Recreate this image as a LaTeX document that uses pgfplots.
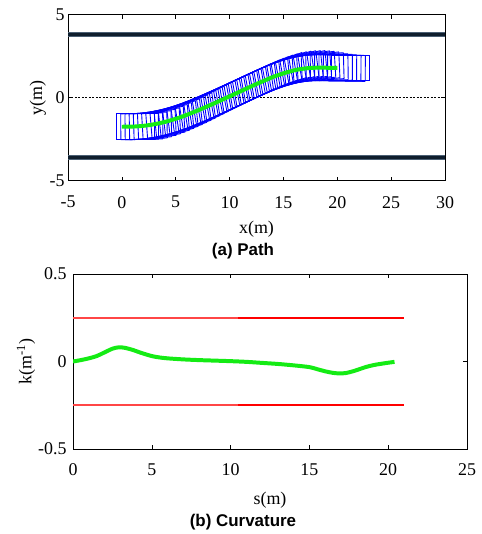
\documentclass[border=0pt]{standalone}
\usepackage{pgfplots}
\pgfplotsset{compat=1.18}
\usepackage{pgfplotstable}
\usepackage{fontspec}
\setmainfont{Liberation Serif}
\newfontfamily\capfont{Liberation Sans}

\definecolor{lanedark}{RGB}{15,30,45}
\definecolor{laneedge}{RGB}{75,95,115}
\definecolor{pathgreen}{RGB}{20,235,20}
\definecolor{lightred}{RGB}{255,70,70}
\definecolor{pureblue}{RGB}{0,0,255}
\definecolor{purered}{RGB}{255,0,0}

% vehicle poses along the path: x, y, heading t (degrees)
\pgfplotstableread{
x y t
0.0 -1.750 0.00
0.4 -1.748 0.46
0.8 -1.744 0.92
1.2 -1.735 1.72
1.6 -1.719 2.86
2.0 -1.695 4.00
2.4 -1.663 5.14
2.8 -1.623 6.28
3.2 -1.575 7.41
3.6 -1.519 8.53
4.0 -1.460 9.65
4.4 -1.389 10.54
4.8 -1.311 11.42
5.2 -1.227 12.24
5.6 -1.138 13.01
6.0 -1.040 13.77
6.4 -0.940 14.31
6.8 -0.836 14.84
7.2 -0.726 15.27
7.6 -0.615 15.59
8.0 -0.505 15.91
8.4 -0.390 16.12
8.8 -0.274 16.33
9.2 -0.156 16.49
9.6 -0.037 16.59
10.0 0.080 16.70
10.4 0.200 16.70
10.8 0.320 16.70
11.2 0.440 16.64
11.6 0.559 16.54
12.0 0.680 16.44
12.4 0.797 16.12
12.8 0.911 15.80
13.2 1.025 15.32
13.6 1.133 14.68
14.0 1.240 14.04
14.4 1.336 12.95
14.8 1.424 11.86
15.2 1.509 10.65
15.6 1.579 9.31
16.0 1.650 7.97
16.4 1.701 6.62
16.8 1.743 5.26
17.2 1.775 3.89
17.6 1.797 2.52
18.0 1.805 1.15
18.4 1.811 0.46
18.8 1.811 -0.23
19.2 1.798 -0.57
19.6 1.794 -0.57
20.0 1.790 0.00
}\poses

\pgfplotstableread{
s k
0.0 0.000
0.5 0.008
1.0 0.018
1.5 0.031
2.0 0.052
2.5 0.073
2.9 0.081
3.3 0.078
3.8 0.066
4.3 0.050
5.0 0.031
5.5 0.023
6.0 0.018
7.0 0.012
8.0 0.008
9.0 0.005
10.0 0.002
11.0 -0.002
12.0 -0.008
13.0 -0.014
14.0 -0.022
15.0 -0.032
15.5 -0.044
16.0 -0.056
16.5 -0.065
16.9 -0.068
17.3 -0.066
17.8 -0.055
18.2 -0.043
18.6 -0.031
19.1 -0.020
19.7 -0.011
20.4 -0.002
}\curv

\begin{document}
\begin{tikzpicture}
\useasboundingbox (0bp,0bp) rectangle (482bp,-534bp);
\pgfplotsset{
  every axis/.append style={
    scale only axis,
    axis line style={line width=0.8pt},
    tick style={line width=0.6pt, black},
    major tick length=4bp,
    tick align=inside,
    tick label style={font=\fontsize{18}{20}\selectfont},
    label style={font=\fontsize{18}{20}\selectfont},
    /pgf/number format/assume math mode=true,
  }
}
% ---------- (a) Path ----------
\begin{axis}[at={(68bp,-180.7bp)}, anchor=south west,
  width=377bp, height=166bp,
  xmin=-5, xmax=30, ymin=-5, ymax=5,
  xtick={-5,0,5,10,15,20,25,30}, ytick={-5,0,5},
  xticklabel style={yshift=-12bp},
  xlabel={x(m)}, ylabel={y(m)},
  xlabel style={at={(axis description cs:0.5,-0.29)}, anchor=center},
  ylabel style={at={(axis description cs:-0.08,0.5)}, anchor=center},
]
\addplot[color=laneedge, line width=4.5pt, no markers] coordinates {(-5,3.8) (30,3.8)};
\addplot[color=lanedark, line width=2.6pt, no markers] coordinates {(-5,3.8) (30,3.8)};
\addplot[color=laneedge, line width=4.5pt, no markers] coordinates {(-5,-3.6) (30,-3.6)};
\addplot[color=lanedark, line width=2.6pt, no markers] coordinates {(-5,-3.6) (30,-3.6)};
\addplot[color=black, line width=0.5pt, dash pattern=on 2pt off 1.5pt, no markers] coordinates {(-5,0) (30,0)};
% rear edges
\addplot[color=pureblue, line width=0.9pt, no markers,
  quiver={u={-1.56*sin(\thisrow{t})}, v={1.56*cos(\thisrow{t})}}]
  table[x expr={\thisrow{x}-0.5*cos(\thisrow{t})+0.78*sin(\thisrow{t})},
        y expr={\thisrow{y}-0.5*sin(\thisrow{t})-0.78*cos(\thisrow{t})}] {\poses};
% front edges
\addplot[color=pureblue, line width=0.9pt, no markers,
  quiver={u={-1.56*sin(\thisrow{t})}, v={1.56*cos(\thisrow{t})}}]
  table[x expr={\thisrow{x}+3.0*cos(\thisrow{t})+0.78*sin(\thisrow{t})},
        y expr={\thisrow{y}+3.0*sin(\thisrow{t})-0.78*cos(\thisrow{t})}] {\poses};
% right sides
\addplot[color=pureblue, line width=0.9pt, no markers,
  quiver={u={3.5*cos(\thisrow{t})}, v={3.5*sin(\thisrow{t})}}]
  table[x expr={\thisrow{x}-0.5*cos(\thisrow{t})+0.78*sin(\thisrow{t})},
        y expr={\thisrow{y}-0.5*sin(\thisrow{t})-0.78*cos(\thisrow{t})}] {\poses};
% left sides
\addplot[color=pureblue, line width=0.9pt, no markers,
  quiver={u={3.5*cos(\thisrow{t})}, v={3.5*sin(\thisrow{t})}}]
  table[x expr={\thisrow{x}-0.5*cos(\thisrow{t})-0.78*sin(\thisrow{t})},
        y expr={\thisrow{y}-0.5*sin(\thisrow{t})+0.78*cos(\thisrow{t})}] {\poses};
% path
\addplot[color=pathgreen, line width=4pt, no markers, smooth] table[x=x, y=y] {\poses};
\end{axis}
\node[font=\capfont\bfseries\fontsize{17}{19}\selectfont] at (243bp,-251bp) {(a) Path};

% ---------- (b) Curvature ----------
\begin{axis}[at={(73bp,-449bp)}, anchor=south west,
  width=394bp, height=175bp,
  xmin=0, xmax=25, ymin=-0.5, ymax=0.5,
  xtick={0,5,10,15,20,25}, ytick={-0.5,0,0.5},
  xticklabel style={yshift=-11bp},
  yticklabel style={xshift=-3bp},
  xlabel={s(m)}, ylabel={k(m\textsuperscript{-1})},
  xlabel style={at={(axis description cs:0.5,-0.291)}, anchor=center},
  ylabel style={at={(axis description cs:-0.119,0.5)}, anchor=center},
]
\addplot[color=lightred, line width=1.8pt, no markers] coordinates {(0,0.25) (10.5,0.25)};
\addplot[color=purered, line width=1.8pt, no markers] coordinates {(10.5,0.25) (21,0.25)};
\addplot[color=lightred, line width=1.8pt, no markers] coordinates {(0,-0.25) (10.5,-0.25)};
\addplot[color=purered, line width=1.8pt, no markers] coordinates {(10.5,-0.25) (21,-0.25)};
\addplot[color=pathgreen, line width=4pt, no markers, smooth] table[x=s, y=k] {\curv};
\end{axis}
\node[font=\capfont\bfseries\fontsize{17}{19}\selectfont] at (243bp,-522bp) {(b) Curvature};
\end{tikzpicture}
\end{document}
